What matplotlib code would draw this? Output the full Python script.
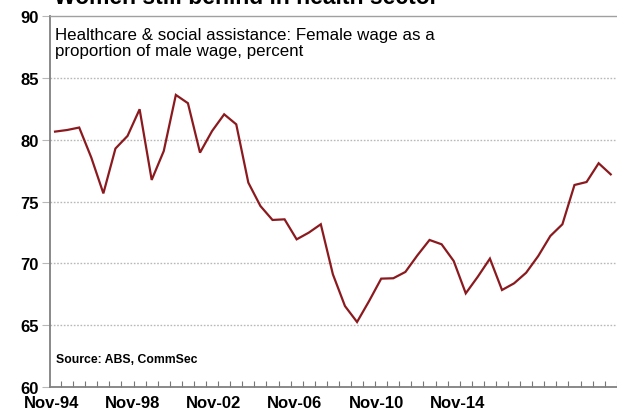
import numpy as np
import matplotlib
matplotlib.use("Agg")
import matplotlib.pyplot as plt

plt.rcParams["font.family"] = ["Liberation Sans", "DejaVu Sans"]

# Female wage as a share of male wage, healthcare & social assistance
wage_ratio = [
    80.66, 80.79, 80.99, 78.56, 75.66, 79.29, 80.31, 82.47, 76.75, 79.09,
    83.63, 82.96, 78.96, 80.71, 82.06, 81.25, 76.53, 74.64, 73.51, 73.56,
    71.94, 72.48, 73.16, 69.11, 66.54, 65.25, 66.95, 68.76, 68.79, 69.30,
    70.65, 71.89, 71.54, 70.19, 67.57, 68.92, 70.38, 67.84, 68.38, 69.24,
    70.59, 72.21, 73.16, 76.34, 76.58, 78.10, 77.20,
]
tick_labels = ["Nov-94", "Nov-98", "Nov-02", "Nov-06", "Nov-10", "Nov-14"]
y_ticks = [60, 65, 70, 75, 80, 85, 90]

line_red = "#8b1a1f"
grid_grey = "#b8b8b8"

fig = plt.figure(figsize=(6.17, 4.10), dpi=100)
ax = fig.add_axes([0.081, 0.054, 0.919, 0.904])

idx = np.arange(len(wage_ratio))
ax.plot(idx, wage_ratio, color=line_red, lw=1.6, solid_joinstyle="miter")

ax.set_ylim(60, 90)
ax.set_xlim(-0.42, len(wage_ratio) - 0.48)

ax.set_yticks(y_ticks)
ax.set_yticklabels([str(v) for v in y_ticks], fontsize=12, fontweight="bold")
for v in y_ticks[1:-1]:
    ax.axhline(v, color=grid_grey, lw=1.0, ls=(0, (1.2, 1.2)), zorder=0)

# labels sit every ~6.7 periods along the category axis
label_pos = -0.3 + 6.72 * np.arange(len(tick_labels))
ax.set_xticks(label_pos)
ax.set_xticklabels(tick_labels, fontsize=12, fontweight="bold")
ax.set_xticks(np.arange(len(wage_ratio)) + 0.5, minor=True)
ax.tick_params(axis="x", which="major", length=0, pad=6)
ax.tick_params(axis="x", which="minor", direction="in", length=4,
               color="#777777", width=0.8)
ax.tick_params(axis="y", which="major", direction="out", length=6,
               color=grid_grey, width=0.8, pad=2)

ax.spines["right"].set_visible(False)
ax.spines["left"].set_color("#808080")
ax.spines["left"].set_linewidth(1.3)
ax.spines["bottom"].set_color("#808080")
ax.spines["bottom"].set_linewidth(1.3)
ax.spines["top"].set_color("#a0a0a0")
ax.spines["top"].set_linewidth(1.0)

ax.text(0.008, 0.972,
        "Healthcare & social assistance: Female wage as a\n"
        "proportion of male wage, percent",
        transform=ax.transAxes, ha="left", va="top", fontsize=12.2,
        linespacing=1.08)
ax.text(0.01, 0.067, "Source: ABS, CommSec", transform=ax.transAxes,
        ha="left", va="baseline", fontsize=8.8, fontweight="bold")

fig.text(0.088, 1 - 3.5 / 410, "Women still behind in health sector",
         ha="left", va="baseline", fontsize=16.5, fontweight="bold")

fig.savefig("out.png", dpi=100)
